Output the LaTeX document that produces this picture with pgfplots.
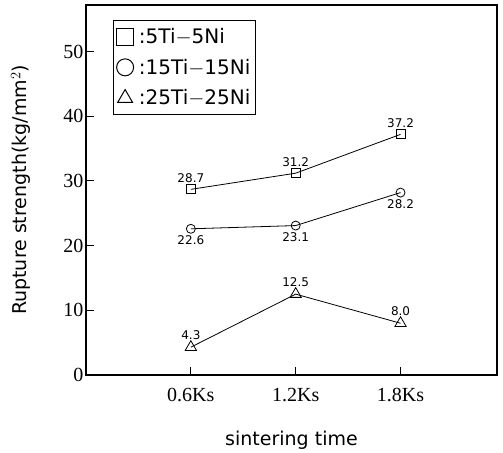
\documentclass[border=0pt]{standalone}
\usepackage{pgfplots}
\pgfplotsset{compat=1.18}
\usepackage{fontspec}
\setmainfont{DejaVu Sans}
\newfontfamily\serif{Liberation Serif}
\begin{document}
\begin{tikzpicture}
\begin{axis}[
  at={(0,0)}, anchor=south west,
  scale only axis, width=411pt, height=370pt,
  xmin=0, xmax=3.92, ymin=0, ymax=57.2,
  xtick={1,2,3}, xticklabels={0.6Ks,1.2Ks,1.8Ks},
  ytick={0,10,20,30,40,50},
  xtick pos=left, ytick pos=left, tick align=inside,
  major tick length=8pt,
  tick style={black, line width=1pt},
  axis line style={line width=1.4pt},
  x tick label style={font=\serif\fontsize{20}{20}\selectfont, yshift=-10pt},
  y tick label style={font=\serif\fontsize{20}{20}\selectfont, xshift=1pt},
  yticklabel={\pgfmathprintnumber[assume math mode=true]{\tick}},
  ylabel={Rupture strength(kg/mm$^2$)},
  xlabel={sintering time},
  ylabel style={font=\fontsize{19}{19}\selectfont, yshift=26pt},
  xlabel style={font=\fontsize{19}{19}\selectfont, yshift=-22pt},
  legend style={at={(0.066,0.96)}, anchor=north west, draw=black, line width=1pt,
    font=\fontsize{20}{20}\selectfont, row sep=10pt, inner xsep=3pt, inner ysep=6pt},
  legend cell align=left,
  legend image code/.code={\draw[#1, mark size=8.5pt, line width=1pt] plot coordinates {(0.3cm,0cm)};},
  nodes near coords, point meta=explicit symbolic,
  every node near coord/.append style={font=\fontsize{12}{12}\selectfont, black},
]
\addplot[black, line width=0.8pt, mark=square, mark size=4.5pt, mark options={solid, fill=white},
  every node near coord/.append style={anchor=south, yshift=3pt}]
  coordinates {(1,28.7)[28.7] (2,31.2)[31.2] (3,37.2)[37.2]};
\addlegendentry{\,:5Ti$-$5Ni}
\addplot[black, line width=0.8pt, mark=o, mark size=4.5pt, mark options={solid, fill=white},
  every node near coord/.append style={anchor=north, yshift=-3pt}]
  coordinates {(1,22.6)[22.6] (2,23.1)[23.1] (3,28.2)[28.2]};
\addlegendentry{\,:15Ti$-$15Ni}
\addplot[black, line width=0.8pt, mark=triangle, mark size=6.5pt, mark options={solid, fill=white},
  every node near coord/.append style={anchor=south, yshift=4pt}]
  coordinates {(1,4.3)[4.3] (2,12.5)[12.5] (3,8.0)[8.0]};
\addlegendentry{\,:25Ti$-$25Ni}
\end{axis}
\path[use as bounding box] (-86pt,-76pt) rectangle (417pt,375pt);
\end{tikzpicture}
\end{document}
